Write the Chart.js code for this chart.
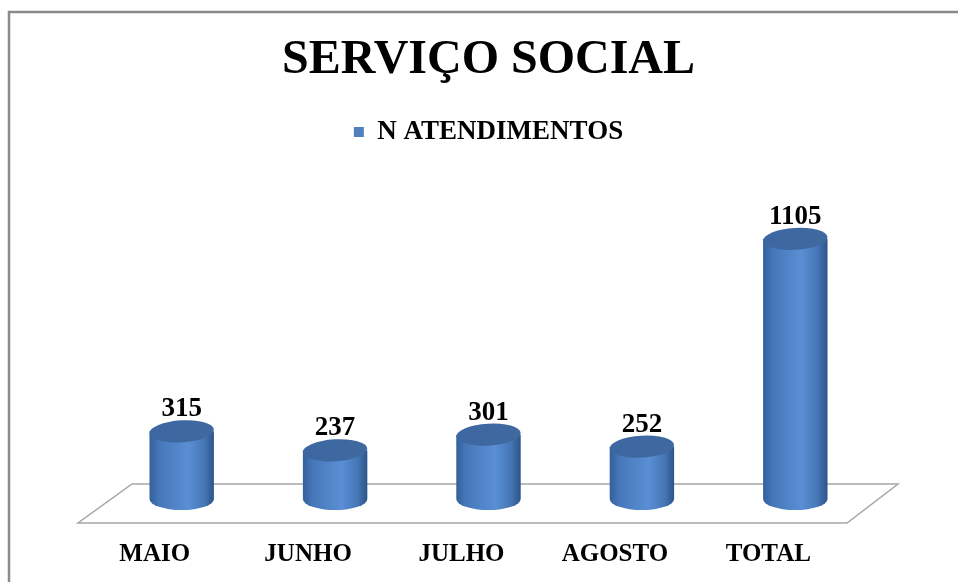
<!DOCTYPE html>
<html>
<head>
<meta charset="utf-8">
<script src="https://cdn.jsdelivr.net/npm/chart.js@4.4.1/dist/chart.umd.min.js"></script>
<style>
  html, body { margin: 0; padding: 0; background: #fff; }
  canvas { display: block; }
</style>
</head>
<body>
<canvas id="chart" width="958" height="582"></canvas>
<script>
const categories = ["MAIO", "JUNHO", "JULHO", "AGOSTO", "TOTAL"];
const atendimentos = [315, 237, 301, 252, 1105];
const seriesName = "N ATENDIMENTOS";
const chartTitle = "SERVIÇO SOCIAL";

const serif = "'Liberation Serif', 'Times New Roman', serif";
const blue = "#4f81bd";

// frame + floor, then cylinders instead of flat bars
const cylinders = {
  id: "cylinders",
  beforeDraw(chart) {
    const { ctx } = chart;
    ctx.save();
    ctx.strokeStyle = "#8a8a8a";
    ctx.lineWidth = 2.5;
    ctx.strokeRect(9, 12, 990, 620);
    ctx.restore();
  },
  beforeDatasetsDraw(chart) {
    const { ctx, chartArea } = chart;
    const base = chart.scales.y.getPixelForValue(0);
    ctx.save();
    ctx.beginPath();
    ctx.moveTo(chartArea.left + 27, base - 24);
    ctx.lineTo(chartArea.right + 26, base - 24);
    ctx.lineTo(chartArea.right - 25, base + 15);
    ctx.lineTo(chartArea.left - 27, base + 15);
    ctx.closePath();
    ctx.fillStyle = "#fff";
    ctx.fill();
    ctx.strokeStyle = "#a6a6a6";
    ctx.lineWidth = 1.5;
    ctx.stroke();
    ctx.restore();
  },
  beforeDatasetDraw() {
    return false;
  },
  afterDatasetsDraw(chart) {
    const { ctx } = chart;
    const meta = chart.getDatasetMeta(0);
    const ry = 11;
    meta.data.forEach((bar, i) => {
      const { x, y, base, width } = bar.getProps(["x", "y", "base", "width"], true);
      const rx = width / 2;
      const bottom = base - 9;
      const left = x - rx;

      const body = ctx.createLinearGradient(left, 0, left + width, 0);
      body.addColorStop(0, "#34609b");
      body.addColorStop(0.15, "#4677b9");
      body.addColorStop(0.6, "#5a8fd5");
      body.addColorStop(0.85, "#4576b6");
      body.addColorStop(1, "#2d5489");

      ctx.save();
      ctx.beginPath();
      ctx.moveTo(left, y);
      ctx.lineTo(left, bottom);
      ctx.ellipse(x, bottom, rx, ry, 0, Math.PI, 0, true);
      ctx.lineTo(left + width, y);
      ctx.closePath();
      ctx.fillStyle = body;
      ctx.fill();

      const cap = ctx.createLinearGradient(left, 0, left + width, 0);
      cap.addColorStop(0, "#3c67a1");
      cap.addColorStop(1, "#40699f");
      ctx.beginPath();
      ctx.ellipse(x, y, rx, ry, -0.06, 0, Math.PI * 2);
      ctx.fillStyle = cap;
      ctx.fill();

      ctx.fillStyle = "#000";
      ctx.textAlign = "center";
      ctx.textBaseline = "alphabetic";
      ctx.font = "bold 27px " + serif;
      ctx.fillText(String(atendimentos[i]), x, y - ry - 4);

      ctx.font = "bold 25px " + serif;
      ctx.fillText(categories[i], x - 27, 561);
      ctx.restore();
    });
  },
};

new Chart(document.getElementById("chart"), {
  type: "bar",
  data: {
    labels: categories,
    datasets: [{
      label: seriesName,
      data: atendimentos,
      backgroundColor: blue,
      borderWidth: 0,
      categoryPercentage: 1,
      barPercentage: 0.42,
    }],
  },
  plugins: [cylinders],
  options: {
    responsive: false,
    animation: false,
    layout: {
      padding: { left: 105, right: 86, bottom: 74, top: 0 },
    },
    plugins: {
      title: {
        display: true,
        text: chartTitle,
        color: "#000",
        font: { family: serif, size: 48, weight: "bold" },
        padding: { top: 32, bottom: 19 },
      },
      legend: {
        display: true,
        labels: {
          color: "#000",
          boxWidth: 10,
          boxHeight: 10,
          font: { family: serif, size: 27, weight: "bold" },
        },
      },
      tooltip: { enabled: false },
    },
    scales: {
      x: { display: false },
      y: { display: false, min: 0, max: 1447 },
    },
  },
});
</script>
</body>
</html>
